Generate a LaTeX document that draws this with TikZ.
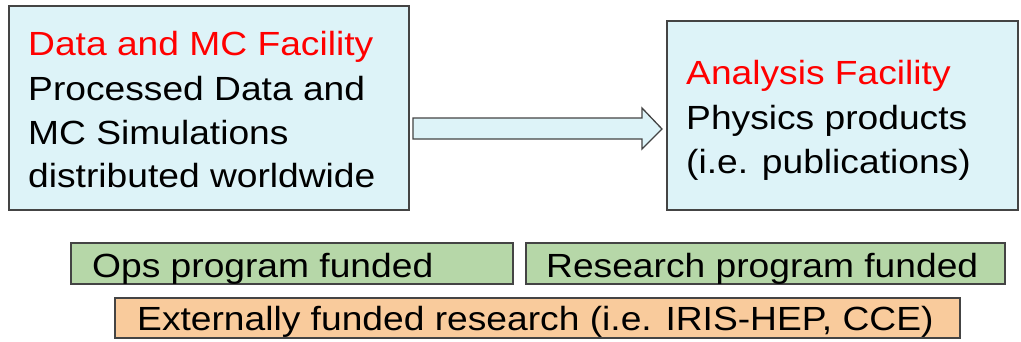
\documentclass[tikz,border=0pt]{standalone}
\usepackage{fontspec}
\setmainfont[FakeStretch=1.11]{Liberation Sans}
\definecolor{boxblue}{HTML}{DDF3F8}
\definecolor{boxgreen}{HTML}{B6D7A8}
\definecolor{boxorange}{HTML}{F9CB9C}
\definecolor{edge}{HTML}{444444}
\tikzset{
  panel/.style={draw=edge, line width=1.3pt, inner sep=0pt, outer sep=0pt},
  txt/.style={anchor=base west, inner sep=0pt, font=\fontsize{33.5}{40}\selectfont},
  title/.style={txt, text={rgb,255:red,255;green,0;blue,0}},
}
\begin{document}
\begin{tikzpicture}[x=1pt,y=-1pt]
\useasboundingbox (0,0) rectangle (1021,341);
% boxes
\node[panel, fill=boxblue, minimum width=400pt, minimum height=204pt, anchor=north west] (left) at (9,6) {};
\node[panel, fill=boxblue, minimum width=351pt, minimum height=189pt, anchor=north west] (right) at (667,21) {};
% texts left
\node[title] (l1) at (28,55) {Data and MC Facility};
\node[txt] (l2) at (28,100) {Processed Data and};
\node[txt] (l3) at (28,144) {MC Simulations};
\node[txt] (l4) at (28,187) {distributed worldwide};
% texts right
\node[title] (r1) at (686,84) {Analysis Facility};
\node[txt] (r2) at (686,129) {Physics products};
\node[txt] (r3) at (686,173) {(i.e. publications)};
% block arrow
\draw[panel, fill=boxblue] (413,118) -- (642,118) -- (642,108) -- (662,129) -- (642,149) -- (642,139) -- (413,139) -- cycle;
% funding boxes
\node[panel, fill=boxgreen, minimum width=442pt, minimum height=41pt, anchor=north west] (ops) at (71,243) {};
\node[panel, fill=boxgreen, minimum width=479pt, minimum height=41pt, anchor=north west] (res) at (526,243) {};
\node[panel, fill=boxorange, minimum width=845pt, minimum height=40pt, anchor=north west] (ext) at (115,298) {};
\node[txt] (opst) at (92,277) {Ops program funded};
\node[txt] (rest) at (546,277) {Research program funded};
\node[txt] (extt) at (137,330) {Externally funded research (i.e. IRIS-HEP, CCE)};
\end{tikzpicture}
\end{document}
